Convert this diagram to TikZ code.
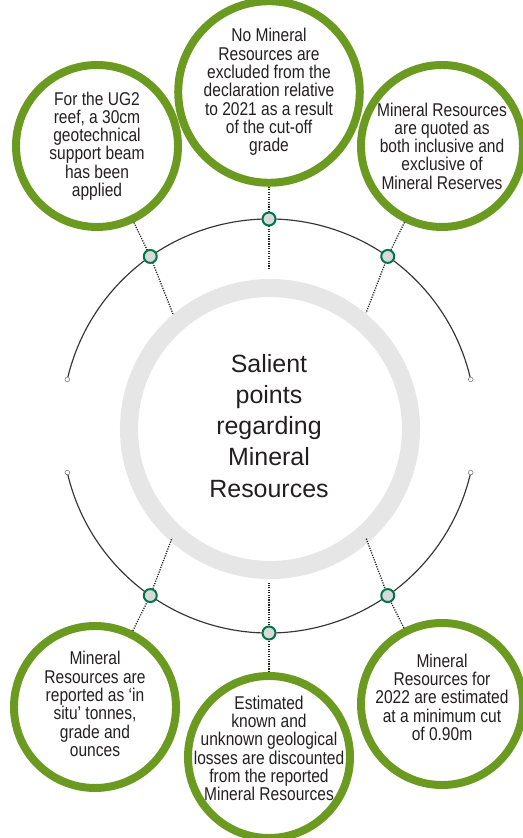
\documentclass[tikz,border=0pt]{standalone}
\usepackage{fontspec}
\setmainfont{Liberation Sans}
\newfontfamily\narrow{Liberation Sans}[FakeStretch=0.84]
\usetikzlibrary{calc}
\definecolor{leaf}{HTML}{6A9A1F}
\definecolor{pine}{HTML}{00754A}
\definecolor{ink}{HTML}{231F20}
\definecolor{mist}{HTML}{E6E6E6}
\definecolor{pin}{HTML}{D9D9D9}
\begin{document}
\begin{tikzpicture}[x=0.03cm,y=0.03cm,line cap=round,line join=round,
    point/.style={circle,draw=leaf,line width=6.8pt,minimum size=4.86cm,
      inner sep=0pt,align=center,text=ink,
      font=\narrow\fontsize{15.8}{15.6}\selectfont},
    say/.style={align=center,text=ink,inner sep=0pt,
      font=\narrow\fontsize{15.8}{15.6}\selectfont},
    knot/.style={circle,draw=pine,fill=pin,line width=1.7pt,
      minimum size=0.39cm,inner sep=0pt},
    tip/.style={circle,draw=gray,fill=white,line width=0.5pt,
      minimum size=0.14cm,inner sep=0pt},
    rim/.style={draw=ink!90,line width=1pt},
    lead/.style={draw=ink,line width=1.1pt,line cap=butt,
      dash pattern=on 1pt off 1.1pt}]
  \useasboundingbox (0,0) rectangle (522,838);
  \coordinate (O) at (269,412);
  \draw[mist,line width=15.4pt] (270,409) circle[radius=141];
  \node[text=ink,align=center,font=\fontsize{21.3}{26.5}\selectfont] (S) at (O)
    {Salient\\points\\regarding\\Mineral\\Resources};
  \draw[rim] ($(O)+(13:207)$) coordinate (e1)
    arc[start angle=13,end angle=167,radius=207] coordinate (e2);
  \draw[rim] ($(O)+(193:207)$) coordinate (e3)
    arc[start angle=193,end angle=347,radius=207] coordinate (e4);
  \foreach \e in {e1,e2,e3,e4} \node[tip] (t\e) at (\e) {};
  \foreach \a/\n in {90/t,125/tl,55/tr,235/bl,305/br,270/b}
    \coordinate (\n) at ($(O)+(\a:207)$);
  \node[point] (gtl) at (97,692)
    {For the UG2\\reef, a 30cm\\geotechnical\\support beam\\has been\\applied};
  \node[point] (gt) at (269,746)
    {No Mineral\\Resources are\\excluded from the\\declaration relative\\to 2021 as a result\\of the cut-off\\grade};
  \node[point] (gtr) at (442,692)
    {Mineral Resources\\are quoted as\\both inclusive and\\exclusive of\\Mineral Reserves};
  \node[point] (gbl) at (95,131) {};
  \node[say] (sbl) at ([yshift=0.09cm]gbl.center)
    {Mineral\\Resources are\\reported as ‘in\\situ’ tonnes,\\grade and\\ounces};
  \node[point] (gb) at (269,81) {};
  \node[say] (sb) at ([yshift=0.26cm]gb.center)
    {Estimated\\known and\\unknown geological\\losses are discounted\\from the reported\\Mineral Resources};
  \node[point] (gbr) at (442,134) {};
  \node[say] (sbr) at ([yshift=0.2cm]gbr.center)
    {Mineral\\Resources for\\2022 are estimated\\at a minimum cut\\of 0.90m};
  \coordinate (xt) at (269,569);
  \coordinate (xtl) at (173,524);
  \coordinate (xtr) at (366,525);
  \coordinate (xbl) at (172,300);
  \coordinate (xbr) at (366,300);
  \coordinate (xb) at (269,255);
  \draw[lead] (gt) -- (t) -- (xt);
  \draw[lead] (gtl) -- (tl) -- (xtl);
  \draw[lead] (gtr) -- (tr) -- (xtr);
  \draw[lead] (gbl) -- (bl) -- (xbl);
  \draw[lead] (gb) -- (b) -- (xb);
  \draw[lead] (gbr) -- (br) -- (xbr);
  \foreach \n in {t,tl,tr,bl,br,b} \node[knot] (k\n) at (\n) {};
\end{tikzpicture}
\end{document}
